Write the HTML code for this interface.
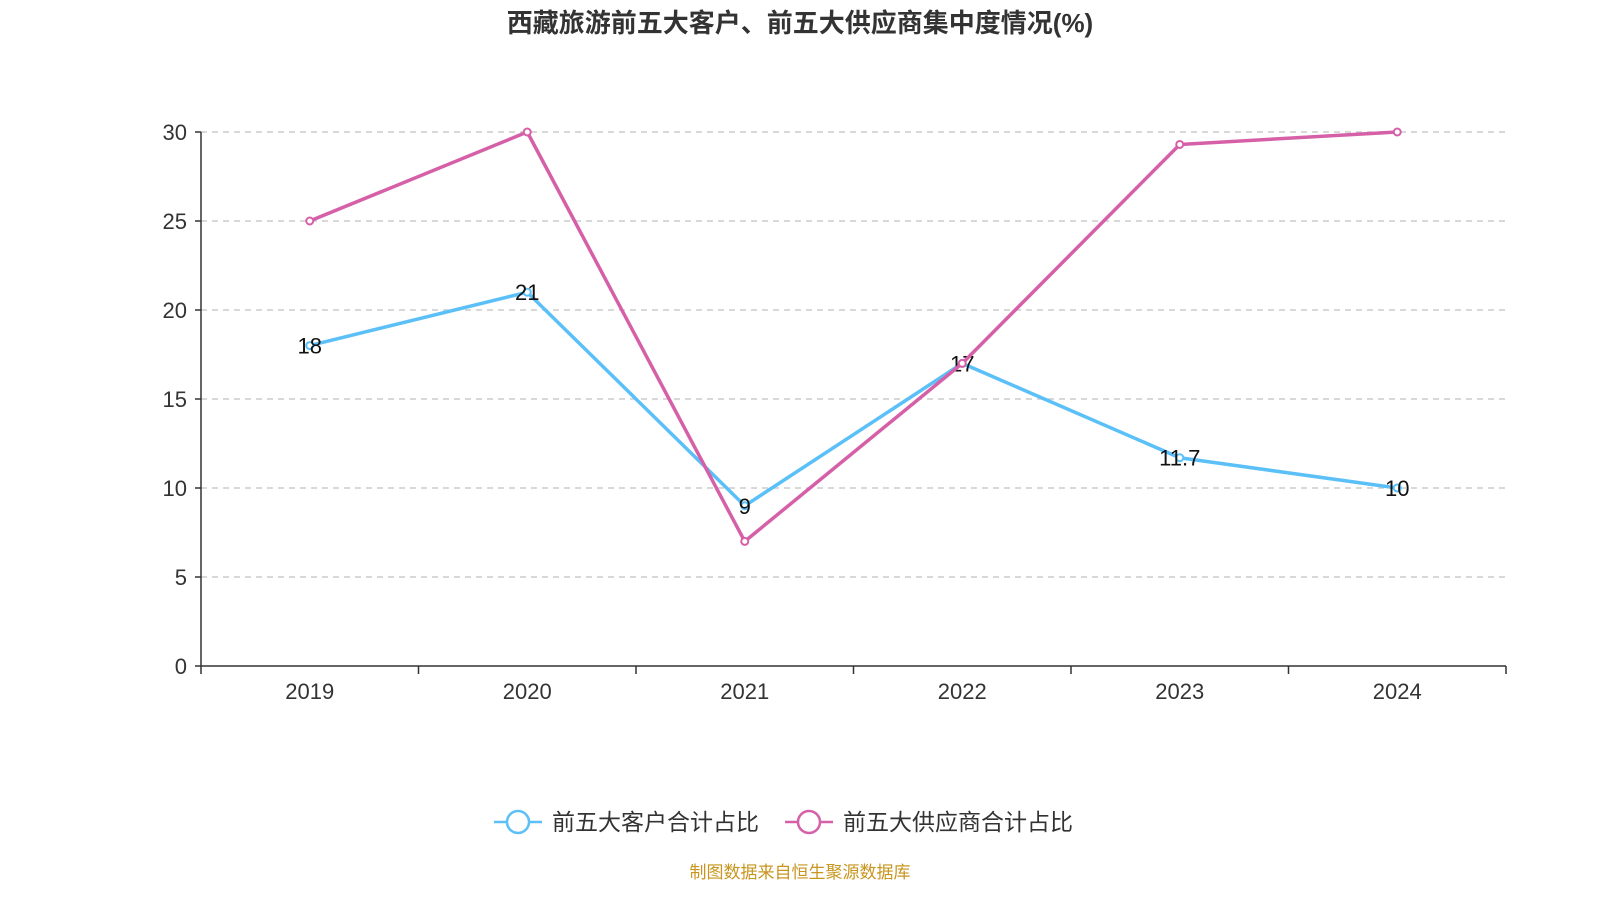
<!DOCTYPE html>
<html><head><meta charset="utf-8">
<style>
html,body{margin:0;padding:0;background:#fff;}
svg{display:block;font-family:"Liberation Sans","Noto Sans CJK SC",sans-serif;}
</style></head>
<body>
<svg id="chart" width="1600" height="900" viewBox="0 0 1600 900">
<text x="800" y="32" text-anchor="middle" font-size="26" font-weight="bold" fill="#333">西藏旅游前五大客户、前五大供应商集中度情况(%)</text>
<g id="grid"></g>
<g id="axes"></g>
<g id="series"></g>
<g>
 <g>
  <line x1="494" y1="822" x2="542" y2="822" stroke="#5bc0f8" stroke-width="2.5"/>
  <circle cx="518" cy="822" r="11" fill="#fff" stroke="#5bc0f8" stroke-width="2.5"/>
  <text x="552" y="830" font-size="23" fill="#333">前五大客户合计占比</text>
 </g>
 <g>
  <line x1="785" y1="822" x2="833" y2="822" stroke="#d660a8" stroke-width="2.5"/>
  <circle cx="809" cy="822" r="11" fill="#fff" stroke="#d660a8" stroke-width="2.5"/>
  <text x="843" y="830" font-size="23" fill="#333">前五大供应商合计占比</text>
 </g>
</g>
<text x="800" y="878" text-anchor="middle" font-size="17" fill="#c8961e">制图数据来自恒生聚源数据库</text>
</svg>
<script>
const categories = ["2019","2020","2021","2022","2023","2024"];
const customerValues = [18,21,9,17,11.7,10];
const supplierValues = [25,30,7,17,29.3,30];
const yTicks = [0,5,10,15,20,25,30];

const NS="http://www.w3.org/2000/svg";
const x0=201,x1=1506,yBase=666,yTop=132,yMax=30;
const step=(x1-x0)/categories.length;
const xPos=i=>x0+step*(i+0.5);
const yPos=v=>yBase-(v/yMax)*(yBase-yTop);
function mk(tag,attrs,parent){const e=document.createElementNS(NS,tag);for(const k in attrs)e.setAttribute(k,attrs[k]);parent.appendChild(e);return e;}
const grid=document.getElementById('grid'),axes=document.getElementById('axes'),series=document.getElementById('series');
yTicks.forEach(t=>{
  const y=yPos(t);
  if(t>0){const g=mk('line',{x1:x0,x2:x1,y1:y,y2:y,stroke:'#ccc','stroke-width':1.5,'stroke-dasharray':'6,5'},grid);
  
  }
  mk('line',{x1:x0-6,x2:x0,y1:y,y2:y,stroke:'#333','stroke-width':1.5},axes);
  const tx=mk('text',{x:x0-14,y:y+8,'text-anchor':'end','font-size':22,fill:'#333'},axes);
  tx.textContent=t;
  
  
});
mk('line',{x1:x0,x2:x0,y1:yTop,y2:yBase,stroke:'#333','stroke-width':1.5},axes);
mk('line',{x1:x0,x2:x1,y1:yBase,y2:yBase,stroke:'#333','stroke-width':1.5},axes);
for(let i=0;i<=categories.length;i++){const x=x0+step*i;mk('line',{x1:x,x2:x,y1:yBase,y2:yBase+8,stroke:'#333','stroke-width':1.5},axes);}
categories.forEach((c,i)=>{
  const t=mk('text',{x:xPos(i),y:699,'text-anchor':'middle','font-size':22,fill:'#333'},axes);
  t.textContent=c;
  
  
});
function drawSeries(vals,color,name,labels){
  const pts=vals.map((v,i)=>xPos(i)+','+yPos(v)).join(' ');
  const pl=mk('polyline',{points:pts,fill:'none',stroke:color,'stroke-width':3.5,'stroke-linejoin':'round'},series);
  
  
  vals.forEach((v,i)=>{
    const c=mk('circle',{cx:xPos(i),cy:yPos(v),r:3.5,fill:'#fff',stroke:color,'stroke-width':2},series);
    
    
    if(labels){
      const t=mk('text',{x:xPos(i),y:yPos(v)+8,'text-anchor':'middle','font-size':22,fill:'#111'},series);
      t.textContent=v;
      
      
    }
  });
}
drawSeries(customerValues,'#5bc0f8','customers',true);
drawSeries(supplierValues,'#d660a8','suppliers',false);
</script>
</body></html>
